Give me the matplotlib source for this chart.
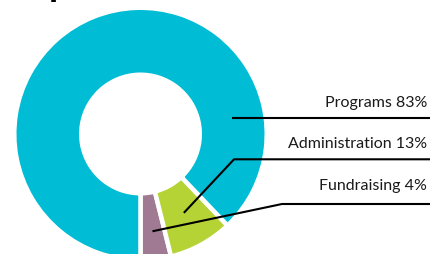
import matplotlib
matplotlib.use("Agg")
import matplotlib.pyplot as plt
import numpy as np

# Data
categories = ["Fundraising", "Administration", "Programs"]
label_pct = [4, 13, 83]
# wedge shares as actually drawn in the graphic (degrees measured off the ring)
drawn_share = [3.9, 8.2, 87.9]
colors = ["#A07A93", "#B5D334", "#00BCD5"]

W, H = 430, 254
fig = plt.figure(figsize=(W / 100, H / 100), dpi=100)
ax = fig.add_axes([0, 0, 1, 1])

# ring geometry in pixel units
cx, cy = 140.5, 254 - 134
gap = 4.5  # white gap between slices, px
r_out, r_in = 124, 61.5
lw_pt = gap * 0.72

wedges, _ = ax.pie(
    drawn_share,
    colors=colors,
    startangle=-90,
    counterclock=True,
    center=(cx, cy),
    radius=r_out + gap / 2,
    wedgeprops=dict(width=r_out + gap - r_in, edgecolor="white", linewidth=lw_pt),
    frame=True,
)
ax.set_xlim(0, W)
ax.set_ylim(0, H)
ax.set_aspect("equal")
ax.axis("off")

r_mid = (r_out + r_in) / 2


def anchor(angle_deg, r=r_mid):
    a = np.deg2rad(angle_deg)
    return cx + r * np.cos(a), cy + r * np.sin(a)


def mid_angle(w):
    return (w.theta1 + w.theta2) / 2


# leader lines: (anchor angle, radius, elbow x, line y, text baseline y)
leaders = {
    "Programs": (10.6, r_mid, None, 136.5, 147.3),
    "Administration": (mid_angle(wedges[1]), 90, 234, 94.7, 105.7),
    "Fundraising": (mid_angle(wedges[0]), 98, 282, 50, 64),
}

for name, pct in zip(categories, label_pct):
    ang, r, ex, ly, ty = leaders[name]
    x0, y0 = anchor(ang, r)
    if ex is None:
        xs, ys = [x0, W], [ly, ly]
    else:
        xs, ys = [x0, ex, W], [y0, ly, ly]
    ax.plot(xs, ys, color="black", lw=1.5, solid_capstyle="butt", clip_on=False)
    ax.text(427, ty, f"{name} {pct}%", ha="right", va="baseline",
            fontsize=11.5, family="Lato", color="#1a1a1a")

# cropped title at the very top (only a descender is visible)
ax.text(49, 257.5, "p", ha="left", va="baseline", fontsize=19,
        fontweight="bold", family="DejaVu Sans", color="black", clip_on=False)

fig.savefig("out.png", dpi=100)
